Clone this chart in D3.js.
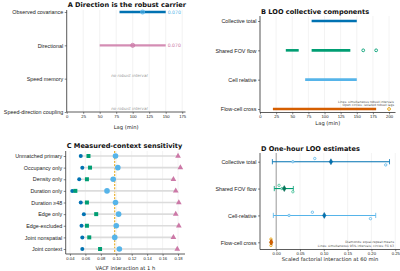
<!DOCTYPE html>
<html>
<head>
<meta charset="utf-8">
<script src="https://cdn.jsdelivr.net/npm/d3@7"></script>
<style>
  body { margin: 0; background: #fff; }
  svg { display: block; font-family: "DejaVu Sans", sans-serif; }
  .tick text { fill: #222; }
</style>
</head>
<body>
<svg id="chart" width="400" height="271"></svg>
<script>
// panel A: lag intervals
const carrierNames = ['Observed covariance', 'Directional', 'Speed memory', 'Speed-direction coupling'];
const carrierStart = [80, 50, null, null];
const carrierEnd = [150, 150, null, null];
const carrierPeak = [115, 100, null, null];
const carrierLabel = ['0.070', '0.070', null, null];
const carrierColor = ['#0072B2', '#CC79A7', null, null];
const carrierPeakColor = ['#56B4E9', '#CC79A7', null, null];
const lagTicksA = [0, 25, 50, 75, 100, 125, 150, 175];

// panel B: LOO components
const looNames = ['Collective total', 'Shared FOV flow', 'Cell relative', 'Flow-cell cross'];
const looSegments = [[[80, 150]], [[40, 60], [80, 140]], [[70, 150]], [[20, 180]]];
const looIsolated = [[], [160, 180], [], [200]];
const looColor = ['#0072B2', '#009E73', '#56B4E9', '#D55E00'];
const looIsoColor = ['#0072B2', '#009E73', '#56B4E9', '#E69F00'];
const lagTicksB = [0, 25, 50, 75, 100, 125, 150, 175, 200];

// panel C: context sensitivity
const contextNames = ['Unmatched primary', 'Occupancy only', 'Density only', 'Duration only', 'Duration \u226548',
  'Edge only', 'Edge-excluded', 'Joint nonspatial', 'Joint context'];
const ctxDark = [0.054, 0.056, 0.052, 0.043, 0.054, 0.058, 0.055, 0.056, 0.056];
const ctxGreen = [0.064, 0.066, 0.062, 0.047, 0.062, 0.074, 0.062, 0.065, 0.079];
const ctxSky = [0.099, 0.102, 0.096, 0.088, 0.099, 0.103, 0.100, 0.098, 0.104];
const ctxPink = [0.180, 0.183, 0.174, 0.177, 0.181, 0.177, 0.181, 0.174, 0.179];
const ctxReference = 0.098;
const ctxTicks = [0.04, 0.06, 0.08, 0.10, 0.12, 0.14, 0.16, 0.18];

// panel D: one-hour LOO estimates
const hourNames = ['Collective total', 'Shared FOV flow', 'Cell-relative', 'Flow-cell cross'];
const hourLow = [-0.008, -0.004, -0.006, -0.012];
const hourHigh = [0.238, 0.036, 0.209, -0.009];
const hourMean = [0.115, 0.017, 0.101, -0.0105];
const hourFolds = [[0.081, 0.035, 0.230], [0.006, 0.012, 0.035], [0.076, 0.027, 0.198], [-0.011, -0.0105, -0.011]];
const hourLine = ['#0072B2', '#009E73', '#56B4E9', '#D55E00'];
const hourDiamond = ['#0072B2', '#00785A', '#0072B2', '#D55E00'];
const hourFold = ['#56B4E9', '#3FBF94', '#56B4E9', '#E69F00'];
const hourTicks = [0.00, 0.05, 0.10, 0.15, 0.20, 0.25];

const svg = d3.select('#chart');
const grid = '#ebebeb';
const xTickFont = 4.2;
const yTickFont = 5.4;

function frame(g, x, y, ticks, fmt, top, bottom, title, titleY, xlabel, xlabelY) {
  const [x0, x1] = x.range();
  g.append('g').selectAll('line').data(ticks).enter().append('line')
      .attr('x1', d => x(d)).attr('x2', d => x(d))
      .attr('y1', top).attr('y2', bottom)
      .attr('stroke', grid).attr('stroke-width', 0.6);
  const ax = g.append('g').attr('transform', 'translate(0,' + bottom + ')')
      .call(d3.axisBottom(x).tickValues(ticks).tickFormat(fmt).tickSize(1.8).tickPadding(1));
  ax.select('.domain').attr('stroke', '#333').attr('stroke-width', 0.8).attr('d', 'M' + x0 + ',0H' + x1);
  ax.selectAll('.tick line').attr('stroke', '#333').attr('stroke-width', 0.6);
  ax.selectAll('.tick text').attr('font-size', xTickFont);
  const ay = g.append('g').attr('transform', 'translate(' + x0 + ',0)')
      .call(d3.axisLeft(y).tickSize(2).tickPadding(1.5));
  ay.select('.domain').attr('stroke', '#333').attr('stroke-width', 0.8).attr('d', 'M0,' + top + 'V' + bottom);
  ay.selectAll('.tick line').attr('stroke', '#333').attr('stroke-width', 0.6);
  ay.selectAll('.tick text').attr('font-size', yTickFont);
  g.append('text').attr('x', x0 + 1).attr('y', titleY)
      .attr('font-size', 6.6).attr('font-weight', 'bold').attr('fill', '#111')
      .text(title);
  g.append('text').attr('x', (x0 + x1) / 2).attr('y', xlabelY)
      .attr('text-anchor', 'middle').attr('font-size', 5.2).attr('fill', '#222')
      .text(xlabel);
}

/* panel A */
{
  const g = svg.append('g');
  const x = d3.scaleLinear().domain([0, 180]).range([66.7, 185.5]);
  const y = d3.scalePoint().domain(carrierNames).range([12, 112]);
  frame(g, x, y, lagTicksA, d3.format('d'), 10, 112, 'A  Direction is the robust carrier', 6.5, 'Lag (min)', 128.5);
  carrierNames.forEach((name, i) => {
    if (carrierStart[i] == null) {
      g.append('text').attr('x', x(95)).attr('y', y(name) - 1.6)
          .attr('text-anchor', 'middle').attr('font-size', 4.1).attr('font-style', 'italic')
          .attr('fill', '#999').text('no robust interval');
      return;
    }
    g.append('line').attr('x1', x(carrierStart[i])).attr('x2', x(carrierEnd[i]))
        .attr('y1', y(name)).attr('y2', y(name))
        .attr('stroke', carrierColor[i]).attr('stroke-width', 2.4)
        .attr('stroke-opacity', i === 1 ? 0.85 : 1);
    g.append('circle').attr('cx', x(carrierPeak[i])).attr('cy', y(name)).attr('r', 2.1)
        .attr('fill', carrierPeakColor[i]).attr('fill-opacity', 0.6)
        .attr('stroke', carrierPeakColor[i]).attr('stroke-width', 0.7);
    g.append('text').attr('x', x(carrierEnd[i]) + 2).attr('y', y(name) + 1.6)
        .attr('font-size', 4.6).attr('fill', carrierPeakColor[i]).text(carrierLabel[i]);
  });
}

/* panel B */
{
  const g = svg.append('g');
  const x = d3.scaleLinear().domain([0, 210]).range([260, 395.5]);
  const y = d3.scalePoint().domain(looNames).range([21, 109]);
  frame(g, x, y, lagTicksB, d3.format('d'), 16, 112.5, 'B  LOO collective components', 14, 'Lag (min)', 124.5);
  looNames.forEach((name, i) => {
    looSegments[i].forEach(s => {
      g.append('line').attr('x1', x(s[0])).attr('x2', x(s[1]))
          .attr('y1', y(name)).attr('y2', y(name))
          .attr('stroke', looColor[i]).attr('stroke-width', 2.6);
    });
    looIsolated[i].forEach(v => {
      g.append('circle').attr('cx', x(v)).attr('cy', y(name)).attr('r', 1.4)
          .attr('fill', '#fff').attr('stroke', looIsoColor[i]).attr('stroke-width', 0.9);
    });
  });
  g.append('text').attr('x', 394).attr('y', 102.5).attr('text-anchor', 'end')
      .attr('font-size', 3.1).attr('fill', '#555').text('Lines: simultaneous robust intervals');
  g.append('text').attr('x', 394).attr('y', 106).attr('text-anchor', 'end')
      .attr('font-size', 3.1).attr('fill', '#555').text('Open circles: isolated robust lags');
}

/* panel C */
{
  const g = svg.append('g');
  const x = d3.scaleLinear().domain([0.0345, 0.189]).range([65.7, 185]);
  const y = d3.scalePoint().domain(contextNames).range([156, 249]);
  frame(g, x, y, ctxTicks, d3.format('.2f'), 151, 254, 'C  Measured-context sensitivity', 148, 'VACF interaction at 1 h', 269.5);
  g.append('line').attr('x1', x(ctxReference)).attr('x2', x(ctxReference))
      .attr('y1', 151).attr('y2', 254)
      .attr('stroke', '#E69F00').attr('stroke-width', 1).attr('stroke-dasharray', '2,1.3');
  contextNames.forEach((name, i) => {
    const cy = y(name);
    const vals = [ctxDark[i], ctxGreen[i], ctxSky[i], ctxPink[i]];
    g.append('line').attr('x1', x(d3.min(vals))).attr('x2', x(d3.max(vals)))
        .attr('y1', cy).attr('y2', cy).attr('stroke', '#dcdcdc').attr('stroke-width', 1.6);
    g.append('circle').attr('cx', x(ctxDark[i])).attr('cy', cy).attr('r', 2)
        .attr('fill', '#0072B2');
    g.append('rect').attr('x', x(ctxGreen[i]) - 2).attr('y', cy - 2).attr('width', 4).attr('height', 4)
        .attr('fill', '#009E73');
    g.append('circle').attr('cx', x(ctxSky[i])).attr('cy', cy).attr('r', 2.8)
        .attr('fill', '#56B4E9');
    g.append('path').attr('d', d3.symbol(d3.symbolTriangle, 14)())
        .attr('transform', 'translate(' + x(ctxPink[i]) + ',' + cy + ')')
        .attr('fill', '#CC79A7');
  });
}

/* panel D */
{
  const g = svg.append('g');
  const x = d3.scaleLinear().domain([-0.034, 0.26]).range([260, 400]);
  const y = d3.scalePoint().domain(hourNames).range([161.7, 242.3]);
  frame(g, x, y, hourTicks, d3.format('.2f'), 153, 249.5, 'D  One-hour LOO estimates', 151, 'Scaled factorial interaction at 60 min', 261);
  g.append('line').attr('x1', x(0)).attr('x2', x(0)).attr('y1', 153).attr('y2', 249.5)
      .attr('stroke', '#888').attr('stroke-width', 0.8);
  hourNames.forEach((name, i) => {
    const cy = y(name);
    g.append('line').attr('x1', x(hourLow[i])).attr('x2', x(hourHigh[i]))
        .attr('y1', cy).attr('y2', cy).attr('stroke', hourLine[i]).attr('stroke-width', 1.1);
    [hourLow[i], hourHigh[i]].forEach(v => {
      g.append('line').attr('x1', x(v)).attr('x2', x(v))
          .attr('y1', cy - 2.6).attr('y2', cy + 2.6).attr('stroke', hourLine[i]).attr('stroke-width', 0.8);
    });
    hourFolds[i].forEach((v, k) => {
      g.append('circle').attr('cx', x(v)).attr('cy', cy + (k - 1) * 3.2).attr('r', 1.2)
          .attr('fill', '#fff').attr('fill-opacity', 0.7)
          .attr('stroke', hourFold[i]).attr('stroke-width', 0.8);
    });
    g.append('path').attr('d', d3.symbol(d3.symbolDiamond, 10)())
        .attr('transform', 'translate(' + x(hourMean[i]) + ',' + cy + ')')
        .attr('fill', hourDiamond[i]).attr('stroke', d3.color(hourDiamond[i]).darker(0.6)).attr('stroke-width', 0.5);
  });
  g.append('text').attr('x', 394).attr('y', 243).attr('text-anchor', 'end')
      .attr('font-size', 3.1).attr('fill', '#555').text('Diamonds: equal-repeat means');
  g.append('text').attr('x', 394).attr('y', 247).attr('text-anchor', 'end')
      .attr('font-size', 3.1).attr('fill', '#555').text('Lines: simultaneous 95% intervals; circles: FG K3');
}
</script>
</body>
</html>
